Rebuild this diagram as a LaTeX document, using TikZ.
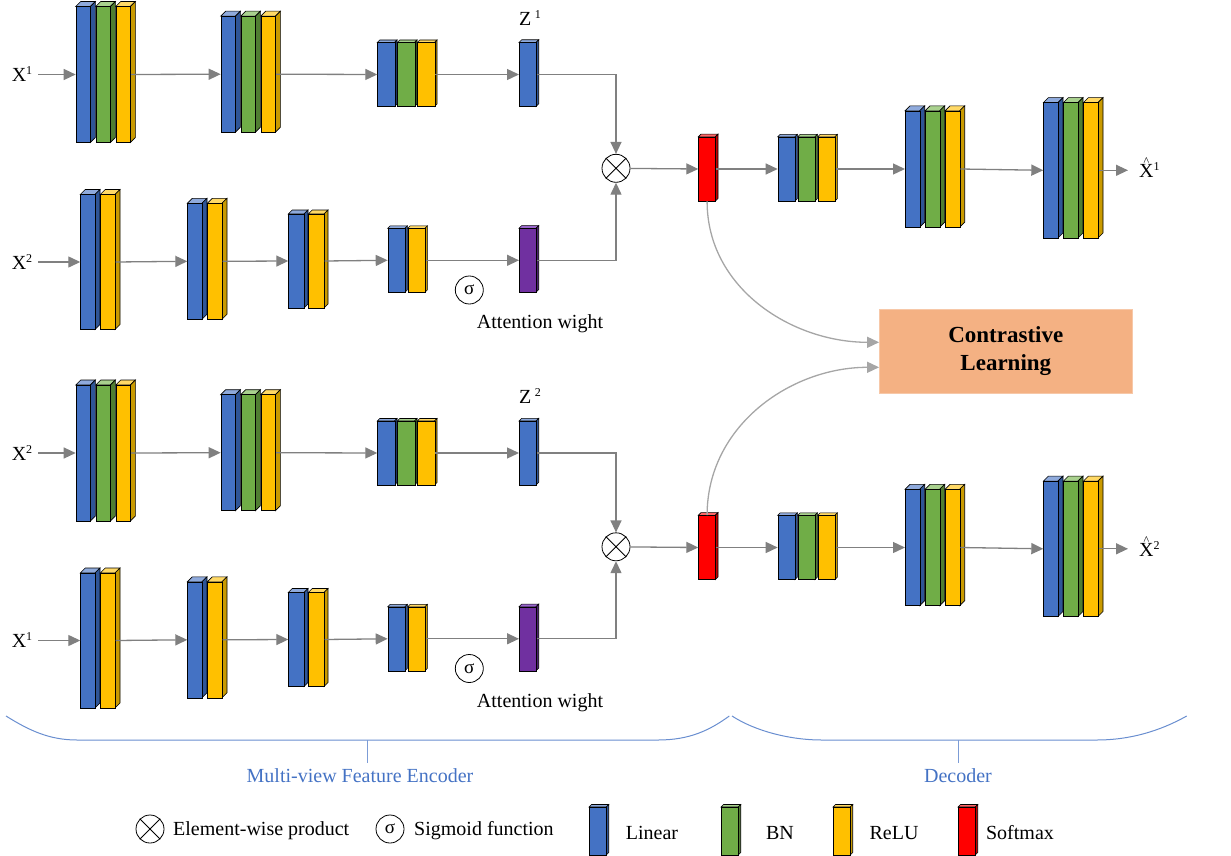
\documentclass[tikz,border=0pt]{standalone}
\usepackage{fontspec}
\setmainfont{Liberation Serif}
\usetikzlibrary{arrows.meta}

\definecolor{lin}{HTML}{4472C4}
\definecolor{lintop}{HTML}{8FAADC}
\definecolor{linside}{HTML}{2F5597}
\definecolor{bn}{HTML}{70AD47}
\definecolor{bntop}{HTML}{A9D18E}
\definecolor{bnside}{HTML}{507E32}
\definecolor{relu}{HTML}{FFC000}
\definecolor{relutop}{HTML}{FFD966}
\definecolor{reluside}{HTML}{C99A00}
\definecolor{soft}{HTML}{FF0000}
\definecolor{softtop}{HTML}{FF6666}
\definecolor{softside}{HTML}{C00000}
\definecolor{attn}{HTML}{7030A0}
\definecolor{attntop}{HTML}{9966CC}
\definecolor{attnside}{HTML}{4C1F70}
\definecolor{flowgray}{HTML}{808080}
\definecolor{curvegray}{HTML}{A6A6A6}
\definecolor{clfill}{HTML}{F4B183}
\definecolor{bracecol}{HTML}{4472C4}

% small raised index
\newcommand{\vsup}[1]{\raisebox{7pt}{\fontsize{12}{12}\selectfont #1}}
% X with a small hat
\newcommand{\xhat}{\ooalign{X\cr\hidewidth\raisebox{12pt}{\fontsize{12}{12}\selectfont\textasciicircum}\hidewidth\cr}}

% one 3d slab: name, x, y centre, height, depth, colour
\newcommand{\slab}[6]{%
  \pgfmathsetmacro{\slabx}{#2}
  \pgfmathsetmacro{\slabw}{19.7-#5}
  \filldraw[fill=#6top, line width=0.6pt] ({\slabx},{#3+#4/2}) -- ++(#5,#5) -- ++(\slabw,0) -- ++(-#5,-#5) -- cycle;
  \filldraw[fill=#6side, line width=0.6pt] ({\slabx+\slabw},{#3+#4/2}) -- ++(#5,#5) -- ++(0,-#4) -- ++(-#5,-#5) -- cycle;
  \node[draw, fill=#6, line width=0.6pt, inner sep=0pt, minimum width=\slabw pt, minimum height=#4 pt, anchor=west] (#1) at ({\slabx},{#3}) {};
}
% a row of slabs: name, x, y centre, height, depth, colour list
\newcommand{\layer}[6]{%
  \foreach \c [count=\i] in {#6} {\slab{#1-\i}{#2+20*(\i-1)}{#3}{#4}{#5}{\c}}
}

\tikzset{
  flow/.style={draw=flowgray, line width=1.3pt, -{Triangle[length=12pt,width=11pt]}},
  curvelink/.style={draw=curvegray, line width=1.3pt, -{Triangle[length=12pt,width=11pt]}},
  opnode/.style={circle, draw, line width=0.8pt, minimum size=28pt, inner sep=0pt},
  lbl/.style={font=\fontsize{20}{23}\selectfont, inner sep=1pt},
}

\begin{document}
\begin{tikzpicture}[x=1pt,y=1pt]
\useasboundingbox (0,0) rectangle (1231,-856);

\foreach \v/\s/\p/\q in {1/0/1/2, 2/378.5/2/1}{
\begin{scope}[yshift=-\s pt]
  % feature branch
  \node[lbl] (xa\v) at (22,-74.5) {X\vsup{\p}};
  \layer{a\v1}{75.7}{-74.5}{136}{5}{lin,bn,relu}
  \layer{a\v2}{220.7}{-74.2}{116}{5}{lin,bn,relu}
  \layer{a\v3}{377.3}{-74.5}{64}{2.5}{lin,bn,relu}
  \slab{z\v}{519}{-74.5}{64}{2.7}{lin}
  \node[lbl] at (530,-18) {Z\,\vsup{\v}};
  % attention branch
  \node[lbl] (xb\v) at (22,-262) {X\vsup{\q}};
  \layer{b\v1}{80.3}{-262}{135}{5}{lin,relu}
  \layer{b\v2}{187.3}{-261.3}{116}{5}{lin,relu}
  \layer{b\v3}{288.3}{-261}{94}{4}{lin,relu}
  \layer{b\v4}{387.7}{-260.3}{64}{2.5}{lin,relu}
  \slab{w\v}{519}{-260.3}{64}{2.7}{attn}
  \node[opnode, font=\fontsize{19}{22}\selectfont] (sig\v) at (469.3,-290) {σ};
  \node[lbl] at (540,-324) {Attention wight};
  \node[opnode] (prod\v) at (616,-168.3) {};
  \draw[line width=0.8pt] (prod\v.north west) -- (prod\v.south east) (prod\v.north east) -- (prod\v.south west);
  % decoder
  \slab{sm\v}{698.3}{-169}{64.3}{2.7}{soft}
  \layer{d\v1}{777.7}{-169}{64.3}{2.5}{lin,bn,relu}
  \layer{d\v2}{905}{-169}{116.3}{5}{lin,bn,relu}
  \layer{d\v3}{1043.3}{-170.3}{135.3}{5}{lin,bn,relu}
  \node[lbl, anchor=west] (o\v) at (1138,-170.3) {\xhat\vsup{\v}};
  % connectors
  \draw[flow, shorten <=5pt] (xa\v) -- (a\v1-1.west);
  \draw[flow] (a\v1-3.east) -- (a\v2-1.west);
  \draw[flow] (a\v2-3.east) -- (a\v3-1.west);
  \draw[flow] (a\v3-3.east) -- (z\v.west);
  \draw[flow] (z\v.east) -| (prod\v.north);
  \draw[flow, shorten <=5pt] (xb\v) -- (b\v1-1.west);
  \draw[flow] (b\v1-2.east) -- (b\v2-1.west);
  \draw[flow] (b\v2-2.east) -- (b\v3-1.west);
  \draw[flow] (b\v3-2.east) -- (b\v4-1.west);
  \draw[flow] (b\v4-2.east) -- (w\v.west);
  \draw[flow] (w\v.east) -| (prod\v.south);
  \draw[flow] (prod\v) -- (sm\v.west);
  \draw[flow] (sm\v.east) -- (d\v1-1.west);
  \draw[flow] (d\v1-3.east) -- (d\v2-1.west);
  \draw[flow] (d\v2-3.east) -- (d\v3-1.west);
  \draw[flow, shorten >=10pt] (d\v3-3.east) -- (o\v.west);
\end{scope}
}

\node[fill=clfill, draw=clfill!70!white, minimum width=253pt, minimum height=83.4pt, align=center,
  font=\bfseries\fontsize{23}{28}\selectfont] (cl) at (1005.8,-351) {Contrastive\\Learning};
\draw[curvelink] (sm1.south) to[out=-90, in=180] ([yshift=8.7pt]cl.west);
\draw[curvelink] (sm2.north) to[out=90, in=180] ([yshift=-16.3pt]cl.west);

% braces
\draw[bracecol!80!white, line width=1pt] (6,-716) .. controls (30,-731) and (50,-740) .. (77,-740) -- (658,-740)
  .. controls (690,-740) and (710,-730) .. (729.3,-716);
\draw[bracecol!80!white, line width=1pt] (732,-716) .. controls (755,-731) and (790,-740) .. (821.7,-740) -- (1096.7,-740)
  .. controls (1130,-740) and (1160,-731) .. (1186.7,-716);
\draw[bracecol!70!white, line width=0.8pt] (367.6,-740) -- (367.6,-763);
\draw[bracecol!70!white, line width=0.8pt] (958,-740) -- (958,-763);
\node[lbl, text=bracecol] at (360,-776) {Multi-view Feature Encoder};
\node[lbl, text=bracecol] at (958,-776) {Decoder};

% legend
\node[opnode] (keyprod) at (150,-829) {};
\draw[line width=0.8pt] (keyprod.north west) -- (keyprod.south east) (keyprod.north east) -- (keyprod.south west);
\node[lbl, anchor=west] at (172,-831) {Element-wise product};
\node[opnode, font=\fontsize{19}{22}\selectfont] (keysig) at (390,-829) {σ};
\node[lbl, anchor=west] at (413,-831) {Sigmoid function};
\foreach \c/\x/\t/\tx in {lin/589/Linear/652, bn/721/BN/780, relu/833/ReLU/894, soft/958/Softmax/1020}{
  \slab{key\c}{\x}{-831}{48}{2.5}{\c}
  \node[lbl] at (\tx,-833) {\t};
}
\end{tikzpicture}
\end{document}
